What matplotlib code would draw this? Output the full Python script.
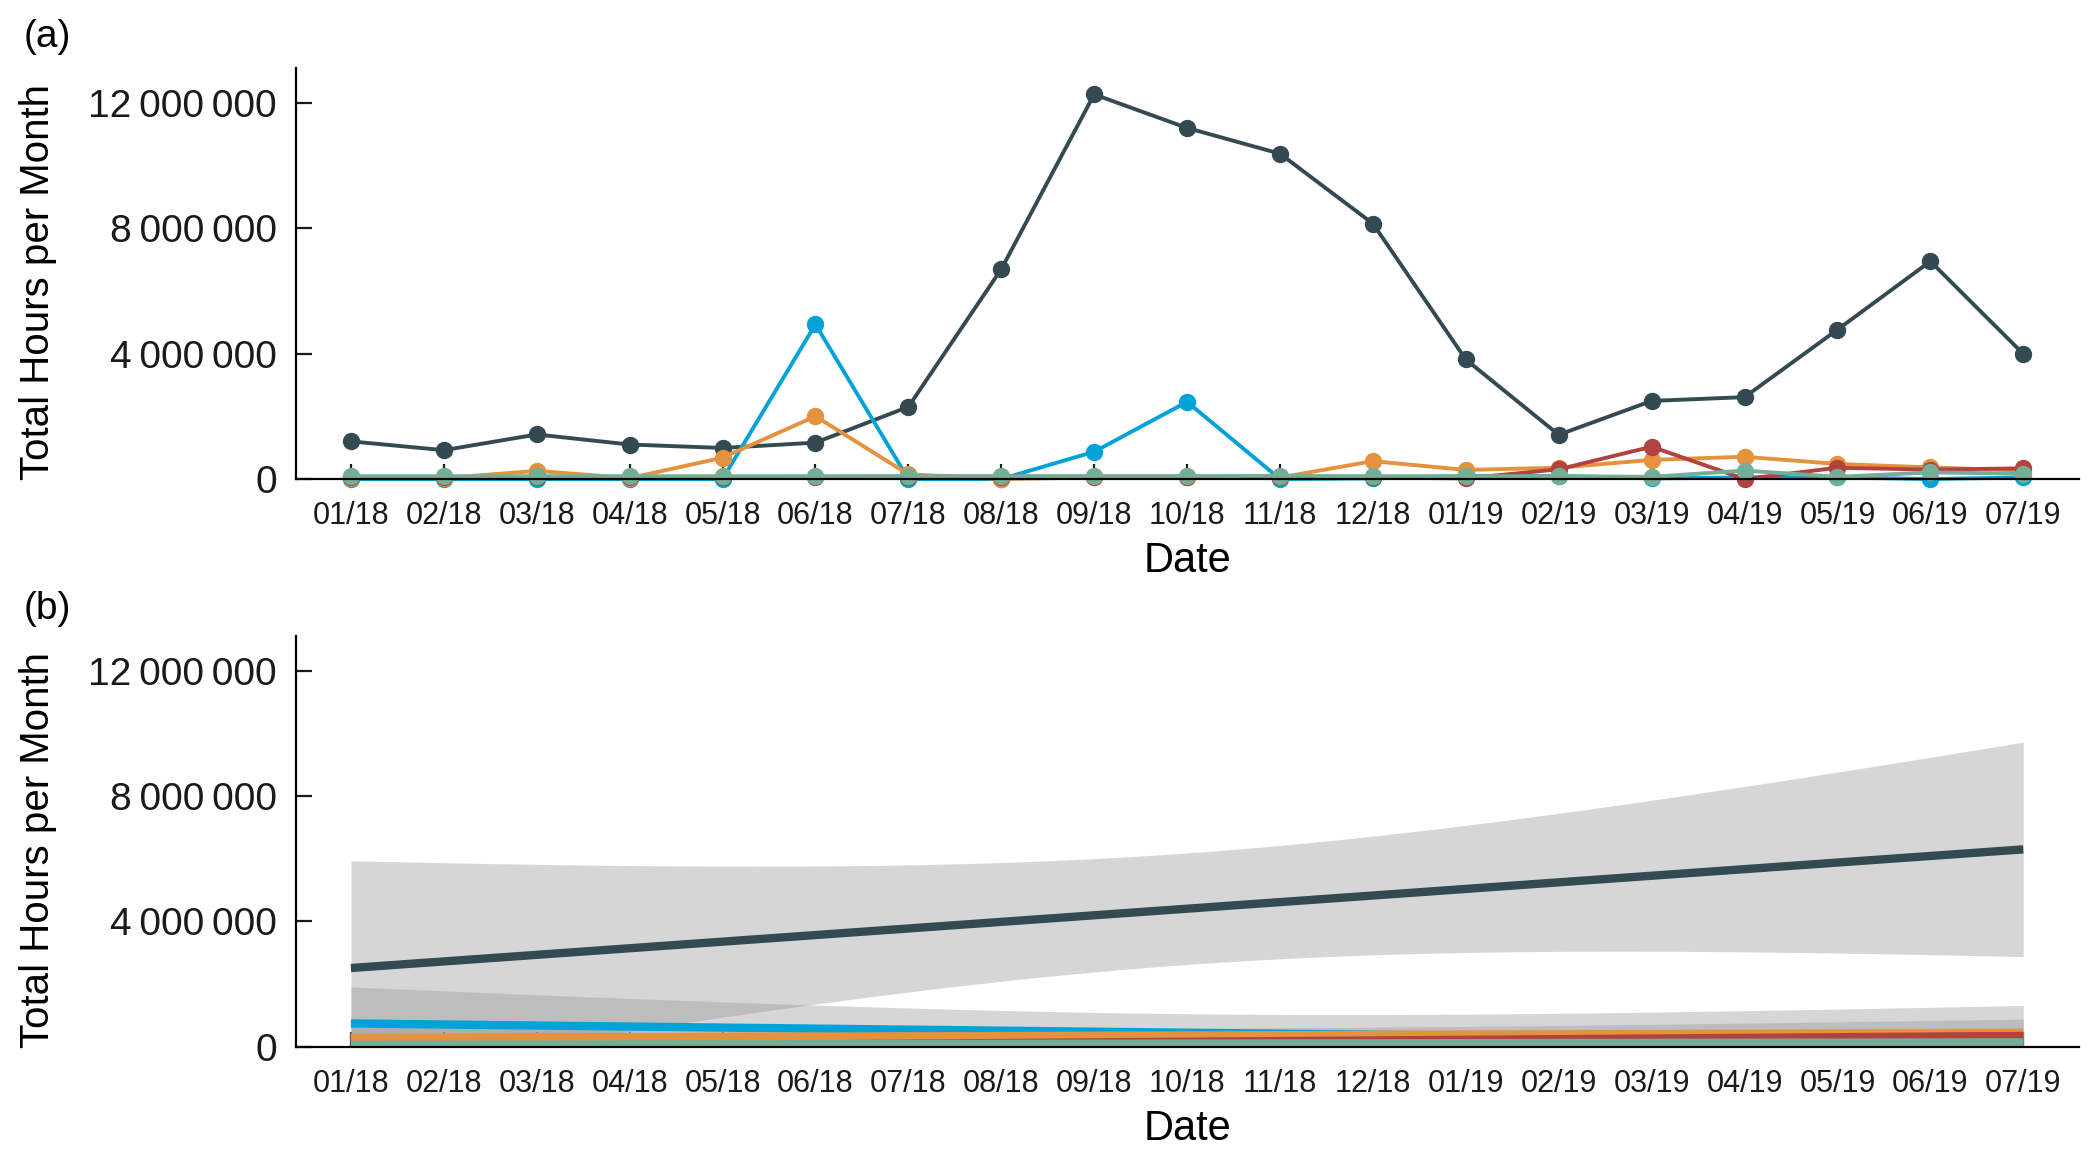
import numpy as np
import matplotlib
matplotlib.use("Agg")
import matplotlib.pyplot as plt
from matplotlib.ticker import FuncFormatter

plt.rcParams['font.family'] = ['Liberation Sans', 'DejaVu Sans']

###############################################

months = ["01/18", "02/18", "03/18", "04/18", "05/18", "06/18", "07/18", "08/18",
          "09/18", "10/18", "11/18", "12/18", "01/19", "02/19", "03/19", "04/19",
          "05/19", "06/19", "07/19"]

# total hours per month, in millions
dark = [1.20, 0.92, 1.42, 1.10, 0.99, 1.16, 2.30, 6.69, 12.26, 11.19, 10.37, 8.14,
        3.81, 1.41, 2.49, 2.61, 4.76, 6.94, 3.99]
blue = [0.0, 0.0, 0.0, 0.0, 0.0, 4.93, 0.0, 0.0, 0.87, 2.46, 0.0, 0.02,
        0.10, 0.10, 0.02, 0.05, 0.05, 0.0, 0.05]
orange = [0.03, 0.03, 0.26, 0.03, 0.68, 2.00, 0.15, 0.0, 0.05, 0.05, 0.05, 0.57,
          0.29, 0.36, 0.61, 0.71, 0.48, 0.37, 0.27]
red = [0.06, 0.06, 0.06, 0.06, 0.06, 0.07, 0.08, 0.08, 0.08, 0.08, 0.08, 0.05,
       0.02, 0.31, 1.03, 0.0, 0.36, 0.30, 0.34]
green = [0.09, 0.09, 0.09, 0.09, 0.09, 0.09, 0.09, 0.09, 0.09, 0.09, 0.10, 0.09,
         0.09, 0.09, 0.07, 0.27, 0.07, 0.21, 0.17]

series = [dark, blue, orange, red, green]
colors = ["#344A52", "#00A2D8", "#E4923D", "#B2423F", "#74AE96"]

yticks = [0, 4e6, 8e6, 12e6]
T975 = 2.110  # t quantile, 17 degrees of freedom

###############################################

x = np.arange(len(months))


def fmt(v, pos):
    return "{:,.0f}".format(v).replace(",", "\u2009")


def style(ax):
    ax.set_xlim(-0.59, 18.6)
    ax.set_ylim(0, 13.1e6)
    ax.set_xticks(x)
    ax.set_xticklabels(months)
    ax.set_yticks(yticks)
    ax.yaxis.set_major_formatter(FuncFormatter(fmt))
    for s in ["top", "right"]:
        ax.spines[s].set_visible(False)
    for s in ["left", "bottom"]:
        ax.spines[s].set_linewidth(1.6)
    ax.tick_params(axis="y", direction="in", length=11.5, width=1.6, pad=14,
                   labelsize=28, colors="#1a1a1a")
    ax.tick_params(axis="x", direction="in", length=11, width=1.6, pad=16,
                   labelsize=22, colors="#1a1a1a")
    ax.set_xlabel("Date", fontsize=30, va="center")
    ax.xaxis.set_label_coords(0.5, -0.2)
    ax.set_ylabel("Total Hours per Month", fontsize=29, va="center")
    ax.yaxis.set_label_coords(-0.145, 0.48)


fig = plt.figure(figsize=(21, 11.61), dpi=100)
ax1 = fig.add_axes([0.141, 0.5874, 0.849, 0.354])
ax2 = fig.add_axes([0.141, 0.0982, 0.849, 0.354])

# (a) raw monthly values
for vals, c in zip(series, colors):
    y = np.array(vals) * 1e6
    ax1.plot(x, y, color=c, lw=2.8, marker="o", ms=11.5, clip_on=False)
style(ax1)

# (b) linear fit with 95% confidence band, ribbon then line per series
ax2.set_axisbelow(True)
xs = np.linspace(0, len(months) - 1, 80)
for vals, c in zip(series, colors):
    y = np.array(vals) * 1e6
    slope, icpt = np.polyfit(x, y, 1)
    resid = y - (slope * x + icpt)
    s = np.sqrt(np.sum(resid ** 2) / (len(x) - 2))
    se = s * np.sqrt(1 / len(x) + (xs - x.mean()) ** 2 / np.sum((x - x.mean()) ** 2))
    yhat = slope * xs + icpt
    ax2.fill_between(xs, yhat - T975 * se, yhat + T975 * se, color="#999999",
                     alpha=0.4, lw=0)
    ax2.plot(xs, yhat, color=c, lw=6, solid_capstyle="butt")
for xi in x:
    ax2.axvline(xi, color="white", alpha=0.25, lw=1.5, zorder=0.8)
style(ax2)

fig.text(0.0224, 0.968, "(a)", fontsize=28, ha="center", va="center")
fig.text(0.0224, 0.4755, "(b)", fontsize=28, ha="center", va="center")

fig.savefig("out.png", dpi=100)
